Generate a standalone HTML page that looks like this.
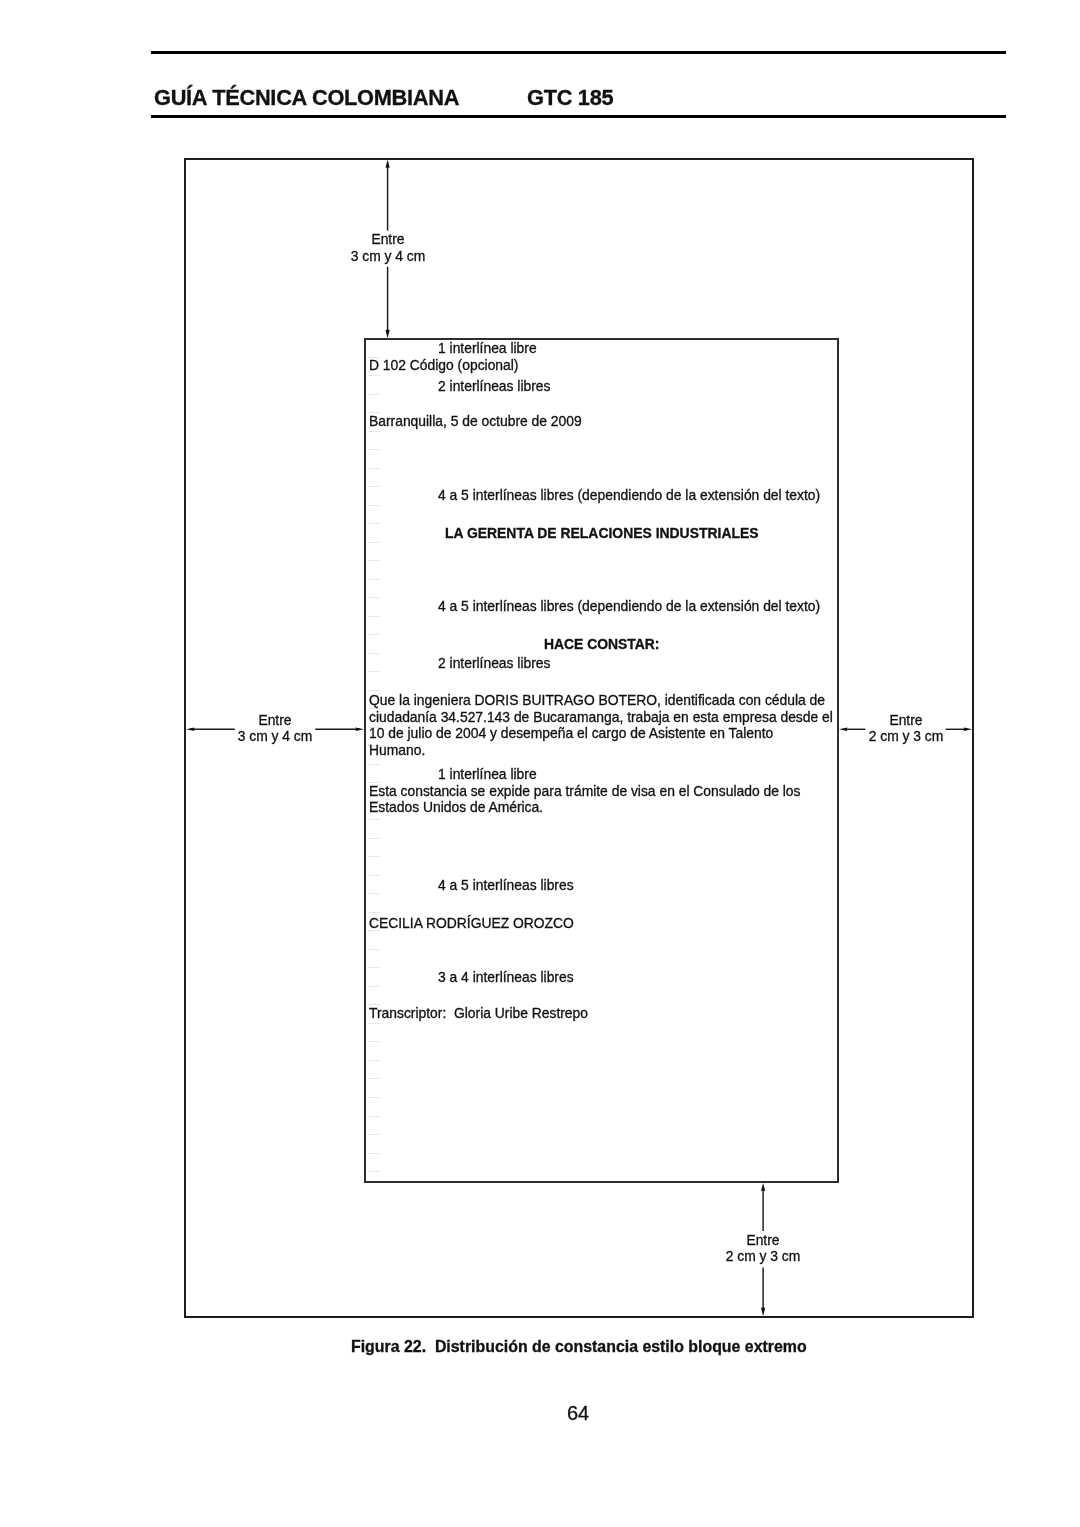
<!DOCTYPE html>
<html><head><meta charset="utf-8"><style>
html,body{margin:0;padding:0;background:#fff;}
body{width:1080px;height:1527px;position:relative;overflow:hidden;font-family:"Liberation Sans",sans-serif;color:#111;}
.t{position:absolute;white-space:nowrap;line-height:1;-webkit-text-stroke:0.3px #111;will-change:transform;}
.c{width:120px;text-align:center;}
.r{position:absolute;}
.box{position:absolute;box-sizing:border-box;border:2px solid #111;}
.s{position:absolute;left:0;top:0;}
</style></head><body>
<div class="r" style="left:151px;top:51px;width:855px;height:3px;background:#000"></div>
<div class="r" style="left:151px;top:115px;width:855px;height:3px;background:#000"></div>
<div class="t" style="left:154.00px;top:87.00px;font-size:21.8px;font-weight:bold;"><span style="letter-spacing:-0.3px">GUÍA TÉCNICA COLOMBIANA</span></div>
<div class="t" style="left:526.50px;top:87.00px;font-size:21.8px;font-weight:bold;"><span style="letter-spacing:-0.3px">GTC 185</span></div>
<div class="box" style="left:184px;top:158px;width:790px;height:1160px;border-color:#1e1e1e"></div>
<div class="box" style="left:364px;top:338px;width:475px;height:845px;border-color:#2e2e2e"></div>
<div class="r" style="left:368px;top:356.60px;width:12px;height:1px;background:#e6e6e6"></div>
<div class="r" style="left:368px;top:375.11px;width:12px;height:1px;background:#e6e6e6"></div>
<div class="r" style="left:368px;top:393.62px;width:12px;height:1px;background:#e6e6e6"></div>
<div class="r" style="left:368px;top:412.13px;width:12px;height:1px;background:#e6e6e6"></div>
<div class="r" style="left:368px;top:430.64px;width:12px;height:1px;background:#e6e6e6"></div>
<div class="r" style="left:368px;top:449.15px;width:12px;height:1px;background:#e6e6e6"></div>
<div class="r" style="left:368px;top:467.66px;width:12px;height:1px;background:#e6e6e6"></div>
<div class="r" style="left:368px;top:486.17px;width:12px;height:1px;background:#e6e6e6"></div>
<div class="r" style="left:368px;top:504.68px;width:12px;height:1px;background:#e6e6e6"></div>
<div class="r" style="left:368px;top:523.19px;width:12px;height:1px;background:#e6e6e6"></div>
<div class="r" style="left:368px;top:541.70px;width:12px;height:1px;background:#e6e6e6"></div>
<div class="r" style="left:368px;top:560.21px;width:12px;height:1px;background:#e6e6e6"></div>
<div class="r" style="left:368px;top:578.72px;width:12px;height:1px;background:#e6e6e6"></div>
<div class="r" style="left:368px;top:597.23px;width:12px;height:1px;background:#e6e6e6"></div>
<div class="r" style="left:368px;top:615.74px;width:12px;height:1px;background:#e6e6e6"></div>
<div class="r" style="left:368px;top:634.25px;width:12px;height:1px;background:#e6e6e6"></div>
<div class="r" style="left:368px;top:652.76px;width:12px;height:1px;background:#e6e6e6"></div>
<div class="r" style="left:368px;top:671.27px;width:12px;height:1px;background:#e6e6e6"></div>
<div class="r" style="left:368px;top:689.78px;width:12px;height:1px;background:#e6e6e6"></div>
<div class="r" style="left:368px;top:708.29px;width:12px;height:1px;background:#e6e6e6"></div>
<div class="r" style="left:368px;top:726.80px;width:12px;height:1px;background:#e6e6e6"></div>
<div class="r" style="left:368px;top:745.31px;width:12px;height:1px;background:#e6e6e6"></div>
<div class="r" style="left:368px;top:763.82px;width:12px;height:1px;background:#e6e6e6"></div>
<div class="r" style="left:368px;top:782.33px;width:12px;height:1px;background:#e6e6e6"></div>
<div class="r" style="left:368px;top:800.84px;width:12px;height:1px;background:#e6e6e6"></div>
<div class="r" style="left:368px;top:819.35px;width:12px;height:1px;background:#e6e6e6"></div>
<div class="r" style="left:368px;top:837.86px;width:12px;height:1px;background:#e6e6e6"></div>
<div class="r" style="left:368px;top:856.37px;width:12px;height:1px;background:#e6e6e6"></div>
<div class="r" style="left:368px;top:874.88px;width:12px;height:1px;background:#e6e6e6"></div>
<div class="r" style="left:368px;top:893.39px;width:12px;height:1px;background:#e6e6e6"></div>
<div class="r" style="left:368px;top:911.90px;width:12px;height:1px;background:#e6e6e6"></div>
<div class="r" style="left:368px;top:930.41px;width:12px;height:1px;background:#e6e6e6"></div>
<div class="r" style="left:368px;top:948.92px;width:12px;height:1px;background:#e6e6e6"></div>
<div class="r" style="left:368px;top:967.43px;width:12px;height:1px;background:#e6e6e6"></div>
<div class="r" style="left:368px;top:985.94px;width:12px;height:1px;background:#e6e6e6"></div>
<div class="r" style="left:368px;top:1004.45px;width:12px;height:1px;background:#e6e6e6"></div>
<div class="r" style="left:368px;top:1022.96px;width:12px;height:1px;background:#e6e6e6"></div>
<div class="r" style="left:368px;top:1041.47px;width:12px;height:1px;background:#e6e6e6"></div>
<div class="r" style="left:368px;top:1059.98px;width:12px;height:1px;background:#e6e6e6"></div>
<div class="r" style="left:368px;top:1078.49px;width:12px;height:1px;background:#e6e6e6"></div>
<div class="r" style="left:368px;top:1097.00px;width:12px;height:1px;background:#e6e6e6"></div>
<div class="r" style="left:368px;top:1115.51px;width:12px;height:1px;background:#e6e6e6"></div>
<div class="r" style="left:368px;top:1134.02px;width:12px;height:1px;background:#e6e6e6"></div>
<div class="r" style="left:368px;top:1152.53px;width:12px;height:1px;background:#e6e6e6"></div>
<div class="r" style="left:368px;top:1171.04px;width:12px;height:1px;background:#e6e6e6"></div>
<div class="t" style="left:437.50px;top:342.00px;font-size:13.87px;">1 interlínea libre</div>
<div class="t" style="left:369.00px;top:359.00px;font-size:13.87px;">D 102 Código (opcional)</div>
<div class="t" style="left:437.50px;top:380.00px;font-size:13.87px;">2 interlíneas libres</div>
<div class="t" style="left:369.00px;top:415.00px;font-size:13.87px;">Barranquilla, 5 de octubre de 2009</div>
<div class="t" style="left:437.50px;top:489.00px;font-size:13.87px;">4 a 5 interlíneas libres (dependiendo de la extensión del texto)</div>
<div class="t" style="left:437.50px;top:600.00px;font-size:13.87px;">4 a 5 interlíneas libres (dependiendo de la extensión del texto)</div>
<div class="t" style="left:437.50px;top:657.00px;font-size:13.87px;">2 interlíneas libres</div>
<div class="t" style="left:369.00px;top:694.00px;font-size:13.87px;">Que la ingeniera DORIS BUITRAGO BOTERO, identificada con cédula de</div>
<div class="t" style="left:369.00px;top:711.00px;font-size:13.87px;">ciudadanía 34.527.143 de Bucaramanga, trabaja en esta empresa desde el</div>
<div class="t" style="left:369.00px;top:727.00px;font-size:13.87px;">10 de julio de 2004 y desempeña el cargo de Asistente en Talento</div>
<div class="t" style="left:369.00px;top:744.00px;font-size:13.87px;">Humano.</div>
<div class="t" style="left:437.50px;top:768.00px;font-size:13.87px;">1 interlínea libre</div>
<div class="t" style="left:369.00px;top:785.00px;font-size:13.87px;">Esta constancia se expide para trámite de visa en el Consulado de los</div>
<div class="t" style="left:369.00px;top:801.00px;font-size:13.87px;">Estados Unidos de América.</div>
<div class="t" style="left:437.50px;top:879.00px;font-size:13.87px;">4 a 5 interlíneas libres</div>
<div class="t" style="left:369.00px;top:917.00px;font-size:13.87px;">CECILIA RODRÍGUEZ OROZCO</div>
<div class="t" style="left:437.50px;top:971.00px;font-size:13.87px;">3 a 4 interlíneas libres</div>
<div class="t" style="left:369.00px;top:1007.00px;font-size:13.87px;">Transcriptor:&nbsp; Gloria Uribe Restrepo</div>
<div class="t" style="left:444.50px;top:527.00px;font-size:13.93px;font-weight:bold;">LA GERENTA DE RELACIONES INDUSTRIALES</div>
<div class="t" style="left:543.50px;top:638.00px;font-size:13.9px;font-weight:bold;">HACE CONSTAR:</div>
<div class="t c" style="left:328.00px;top:233.00px;font-size:13.87px">Entre</div>
<div class="t c" style="left:328.00px;top:250.00px;font-size:13.87px">3 cm y 4 cm</div>
<div class="t c" style="left:215.00px;top:714.00px;font-size:13.87px">Entre</div>
<div class="t c" style="left:215.00px;top:730.00px;font-size:13.87px">3 cm y 4 cm</div>
<div class="t c" style="left:845.90px;top:714.00px;font-size:13.87px">Entre</div>
<div class="t c" style="left:845.90px;top:730.00px;font-size:13.87px">2 cm y 3 cm</div>
<div class="t c" style="left:703.40px;top:1234.00px;font-size:13.87px">Entre</div>
<div class="t c" style="left:703.40px;top:1250.00px;font-size:13.87px">2 cm y 3 cm</div>
<div class="t" style="left:351.00px;top:1339.00px;font-size:15.9px;font-weight:bold;">Figura 22.&nbsp; Distribución de constancia estilo bloque extremo</div>
<div class="t" style="left:566.50px;top:1403.00px;font-size:20px;">64</div>
<svg class="s" width="1080" height="1527" viewBox="0 0 1080 1527">
<g stroke="#1a1a1a" stroke-width="1.45" fill="none">
<line x1="387.6" y1="165" x2="387.6" y2="230.6"/>
<line x1="387.6" y1="266.7" x2="387.6" y2="333"/>
<line x1="190" y1="729.3" x2="234.8" y2="729.3"/>
<line x1="315.2" y1="729.3" x2="360" y2="729.3"/>
<line x1="843" y1="729.3" x2="865.4" y2="729.3"/>
<line x1="945.7" y1="729.3" x2="968" y2="729.3"/>
<line x1="763.1" y1="1187" x2="763.1" y2="1230.9"/>
<line x1="763.1" y1="1267.5" x2="763.1" y2="1312"/>
</g>
<g fill="#111">
<path d="M387.6 159.6 L385.5 167.8 Q387.6 167.0 389.70000000000005 167.8 Z"/>
<path d="M387.6 338.2 L385.5 330.0 Q387.6 329.2 389.70000000000005 330.0 Z"/>
<path d="M186 729.3 L194.4 727.5999999999999 Q193.6 729.3 194.4 731.0 Z"/>
<path d="M364 729.3 L355.6 727.5999999999999 Q356.40000000000003 729.3 355.6 731.0 Z"/>
<path d="M839 729.3 L847.2 727.5999999999999 Q846.4000000000001 729.3 847.2 731.0 Z"/>
<path d="M972.2 729.3 L963.7 727.5999999999999 Q964.5 729.3 963.7 731.0 Z"/>
<path d="M763.1 1183 L761.0 1191 Q763.1 1190.2 765.2 1191 Z"/>
<path d="M763.1 1316.2 L761.0 1307.8 Q763.1 1307.0 765.2 1307.8 Z"/>
</g>
</svg>
</body></html>
